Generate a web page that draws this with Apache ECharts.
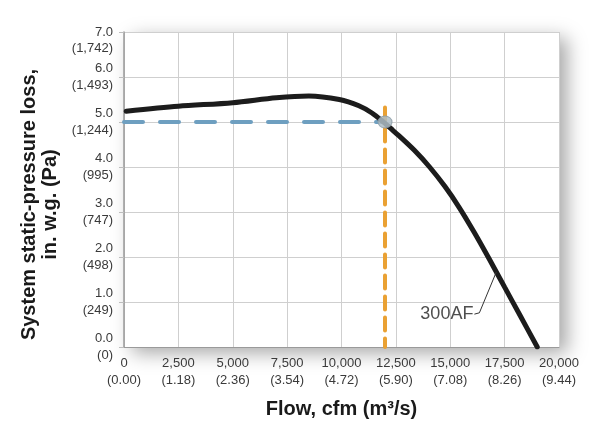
<!DOCTYPE html>
<html>
<head>
<meta charset="utf-8">
<style>
  html, body { margin: 0; padding: 0; background: #ffffff; }
  #chart { width: 600px; height: 441px; }
</style>
<script src="https://cdn.jsdelivr.net/npm/echarts@6/dist/echarts.min.js"></script>
</head>
<body>
<div id="chart"></div>
<script>
// Fan curve 300AF: flow (cfm) vs static pressure (in. w.g.)
var curveFlow = [100, 2500, 5000, 7000, 8500, 9900, 10800, 11400, 11900, 12350, 12650, 13350, 14050, 14750, 15400, 16100, 16800, 17500, 18200, 19000];
var curvePressure = [5.24, 5.35, 5.43, 5.54, 5.58, 5.50, 5.36, 5.20, 5.01, 4.82, 4.69, 4.37, 4.00, 3.57, 3.11, 2.55, 1.95, 1.33, 0.71, 0];

// Operating point
var opFlow = 12000;
var opPressure = 5.0;
var pressureGuideFlow = [0, 12000];
var pressureGuideValue = [5.0, 5.0];
var flowGuideFlow = [12000, 12000];
var flowGuideValue = [5.32, 0];

// Curve label leader (data units)
var leaderFlow = [17120, 16340, 16110];
var leaderPressure = [1.67, 0.76, 0.73];
var curveName = '300AF';

// Tick labels
var xTicks = [0, 2500, 5000, 7500, 10000, 12500, 15000, 17500, 20000];
var xTickLabels = ['0\n(0.00)', '2,500\n(1.18)', '5,000\n(2.36)', '7,500\n(3.54)', '10,000\n(4.72)', '12,500\n(5.90)', '15,000\n(7.08)', '17,500\n(8.26)', '20,000\n(9.44)'];
var yTicks = [0, 1, 2, 3, 4, 5, 6, 7];
var yTickLabels = ['0.0\n(0)', '1.0\n(249)', '2.0\n(498)', '3.0\n(747)', '4.0\n(995)', '5.0\n(1,244)', '6.0\n(1,493)', '\n7.0\n(1,742)'];

function zip(a, b) { return a.map(function (v, i) { return [v, b[i]]; }); }

var chart = echarts.init(document.getElementById('chart'), null, { renderer: 'canvas' });
var font = '"Liberation Sans", Arial, Helvetica, sans-serif';

chart.setOption({
  backgroundColor: '#ffffff',
  animation: false,
  grid: {
    left: 124, right: 41, top: 32, bottom: 94,
    show: true, backgroundColor: '#ffffff', borderWidth: 0,
    shadowBlur: 18, shadowColor: 'rgba(0,0,0,0.35)', shadowOffsetX: 8, shadowOffsetY: 6
  },
  xAxis: {
    type: 'value', min: 0, max: 20000, interval: 2500,
    name: 'Flow, cfm (m³/s)', nameLocation: 'middle', nameGap: 52,
    nameTextStyle: { fontFamily: font, fontWeight: 'bold', fontSize: 20, color: '#1a1a1a' },
    axisLine: { show: true, lineStyle: { color: '#9a9a9a', width: 1 } },
    axisTick: { show: false },
    splitLine: { show: true, lineStyle: { color: '#cfcfcf', width: 1 } },
    axisLabel: {
      margin: 8, fontFamily: font, fontSize: 13, color: '#3a3a3a', lineHeight: 17,
      formatter: function (v) { var i = xTicks.indexOf(v); return i >= 0 ? xTickLabels[i] : ''; }
    }
  },
  yAxis: {
    type: 'value', min: 0, max: 7, interval: 1,
    name: 'System static-pressure loss,\nin. w.g. (Pa)', nameLocation: 'middle', nameGap: 51,
    nameTextStyle: { fontFamily: font, fontWeight: 'bold', fontSize: 20, color: '#1a1a1a', lineHeight: 21, padding: [0, 30, 0, 0] },
    axisLine: { show: true, lineStyle: { color: '#9a9a9a', width: 1.5 } },
    axisTick: { show: true, length: 5, lineStyle: { color: '#bdbdbd' } },
    splitLine: { show: true, lineStyle: { color: '#cfcfcf', width: 1 } },
    axisLabel: {
      margin: 11, fontFamily: font, fontSize: 13, color: '#3a3a3a', lineHeight: 16.5, align: 'right',
      formatter: function (v) { var i = yTicks.indexOf(v); return i >= 0 ? yTickLabels[i] : ''; }
    }
  },
  series: [
    {
      type: 'line', name: 'pressureGuide', data: zip(pressureGuideFlow, pressureGuideValue),
      showSymbol: false, silent: true, z: 2,
      lineStyle: { color: '#6e9fc0', width: 4, type: [19, 17], cap: 'round' }
    },
    {
      type: 'line', name: 'flowGuide', data: zip(flowGuideFlow, flowGuideValue),
      showSymbol: false, silent: true, z: 2,
      lineStyle: { color: '#eaa133', width: 4, type: [13, 8], cap: 'round' }
    },
    {
      type: 'line', name: curveName, data: zip(curveFlow, curvePressure),
      smooth: 0.3, showSymbol: false, z: 4,
      lineStyle: { color: '#1c1c1c', width: 5, cap: 'round' }
    },
    {
      type: 'scatter', name: 'operating', data: [[opFlow, opPressure]], z: 5,
      symbol: 'circle', symbolSize: [14, 12],
      itemStyle: { color: '#aebdc6', borderColor: '#8d9ea8', borderWidth: 1, opacity: 0.85 }
    },
    {
      type: 'line', name: 'leader', data: zip(leaderFlow, leaderPressure),
      showSymbol: false, z: 5,
      lineStyle: { color: '#333333', width: 1 }
    },
    {
      type: 'scatter', name: 'curveLabel',
      data: [[leaderFlow[leaderFlow.length - 1], leaderPressure[leaderPressure.length - 1]]],
      symbolSize: 0, z: 5,
      label: {
        show: true, formatter: curveName, position: 'left', distance: 1,
        fontFamily: font, fontSize: 18, color: '#222222'
      }
    }
  ]
});
</script>
</body>
</html>
